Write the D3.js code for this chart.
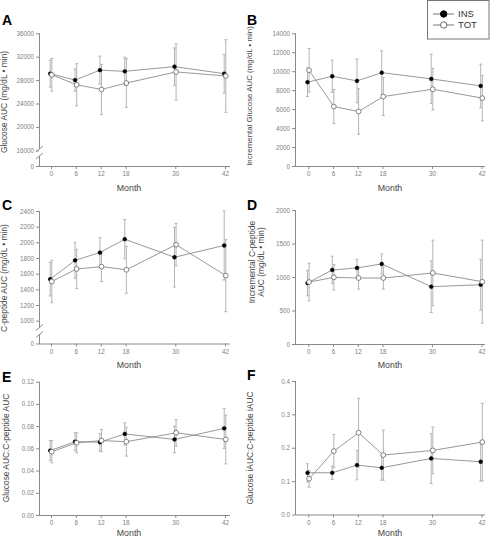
<!DOCTYPE html>
<html><head><meta charset="utf-8">
<script src="https://cdn.jsdelivr.net/npm/d3@7"></script>
<style>body{margin:0;background:#fff}svg{display:block}</style>
</head><body>
<svg id="c" width="490" height="539"></svg>
<script>
// ---------- data ----------
const months = [0, 6, 12, 18, 30, 42];
const seriesNames = ["INS", "TOT"];

// A: Glucose AUC
const aIns = [29100, 28000, 29700, 29500, 30300, 29100];
const aInsErr = [2300, 1900, 2400, 2400, 3200, 3300];
const aTot = [28900, 27200, 26400, 27500, 29400, 28700];
const aTotErr = [2800, 3600, 4300, 4150, 4800, 6200];
const aTicks = [0, 16000, 20000, 24000, 28000, 32000, 36000];

// B: Incremental Glucose AUC
const bIns = [8840, 9470, 8980, 9850, 9190, 8450];
const bInsErr = [1500, 1700, 2300, 2300, 2600, 2300];
const bTot = [10100, 6270, 5750, 7330, 8100, 7160];
const bTotErr = [2300, 1800, 2400, 2000, 2200, 2400];
const bTicks = [0, 2000, 4000, 6000, 8000, 10000, 12000, 14000];

// C: C-peptide AUC
const cIns = [1530, 1770, 1870, 2040, 1810, 1960];
const cInsErr = [215, 230, 190, 250, 380, 440];
const cTot = [1500, 1660, 1690, 1650, 1970, 1575];
const cTotErr = [270, 250, 190, 300, 270, 460];
const cTicks = [0, 1000, 1200, 1400, 1600, 1800, 2000, 2200, 2400];

// D: Incremental C-peptide AUC
const dIns = [910, 1105, 1135, 1195, 855, 885];
const dInsErr = [190, 205, 130, 150, 385, 380];
const dTot = [925, 995, 985, 985, 1060, 930];
const dTotErr = [280, 190, 165, 165, 490, 620];
const dTicks = [0, 500, 1000, 1500, 2000];

// E: Glucose AUC : C-peptide AUC
const eIns = [0.058, 0.066, 0.0655, 0.073, 0.068, 0.078];
const eInsErr = [0.009, 0.008, 0.008, 0.010, 0.012, 0.018];
const eTot = [0.057, 0.065, 0.067, 0.066, 0.074, 0.068];
const eTotErr = [0.010, 0.009, 0.010, 0.013, 0.012, 0.022];
const eTicks = [0, 0.02, 0.04, 0.06, 0.08, 0.10, 0.12];

// F: Glucose iAUC : C-peptide iAUC
const fIns = [0.125, 0.125, 0.148, 0.140, 0.168, 0.158];
const fInsErr = [0.027, 0.020, 0.044, 0.037, 0.075, 0.058];
const fTot = [0.107, 0.190, 0.245, 0.178, 0.192, 0.217];
const fTotErr = [0.025, 0.050, 0.103, 0.075, 0.070, 0.116];
const fTicks = [0, 0.1, 0.2, 0.3, 0.4];

// ---------- layout ----------
const FONT = "'Liberation Sans', Arial, Helvetica, sans-serif";
const svg = d3.select("#c");
const L = {x0: 39, x1: 230, m0: 51, m1: 225, monthX: 129};
const R = {x0: 295, x1: 485, m0: 308.3, m1: 481.5, monthX: 390};

const panels = [
  {letter: "A", col: L, yDom: [0, 16000, 36000], yRng: [166, 150.3, 33.3], ticks: aTicks, fmt: d => d,
   ins: aIns, insErr: aInsErr, tot: aTot, totErr: aTotErr, brk: [149, 156],
   title: ["Glucose AUC (mg/dL \u2022 min)"], tX: [7], tY: 102, tS: 8.4, lY: 25, mY: 190.5},
  {letter: "B", col: R, yDom: [0, 14000], yRng: [166, 33.3], ticks: bTicks, fmt: d => d,
   ins: bIns, insErr: bInsErr, tot: bTot, totErr: bTotErr,
   title: ["Incremental Glucose AUC (mg/dL \u2022 min)"], tX: [252], tY: 96, tS: 7.9, lY: 25, mY: 190.5},
  {letter: "C", col: L, yDom: [0, 1000, 2400], yRng: [343.5, 320.7, 211], ticks: cTicks, fmt: d => d,
   ins: cIns, insErr: cInsErr, tot: cTot, totErr: cTotErr, brk: [327.5, 334.5],
   title: ["C-peptide AUC (mg/dL \u2022 min)"], tX: [7], tY: 278, tS: 8.4, lY: 210, mY: 368},
  {letter: "D", col: R, yDom: [0, 2000], yRng: [344, 210], ticks: dTicks, fmt: d => d,
   ins: dIns, insErr: dInsErr, tot: dTot, totErr: dTotErr,
   title: ["Incremental C-peptide", "AUC (mg/dL \u2022 min)"], tX: [255, 264], tY: 262, tS: 8.4, lY: 210, mY: 368},
  {letter: "E", col: L, yDom: [0, 0.12], yRng: [515, 381.7], ticks: eTicks, fmt: d => d.toFixed(2),
   ins: eIns, insErr: eInsErr, tot: eTot, totErr: eTotErr,
   title: ["Glucose AUC:C-peptide AUC"], tX: [9], tY: 448, tS: 8.4, lY: 382, mY: 536},
  {letter: "F", col: R, yDom: [0, 0.4], yRng: [514.5, 381], ticks: fTicks, fmt: d => d.toFixed(1),
   ins: fIns, insErr: fInsErr, tot: fTot, totErr: fTotErr,
   title: ["Glucose iAUC:C-peptide iAUC"], tX: [253], tY: 448, tS: 8.4, lY: 380, mY: 536}
];

const AX = "#8a8a8a", TICKTXT = "#808080", TITLE = "#444", LINE = "#858585", ERR = "#b4b4b4";

panels.forEach(p => {
  const g = svg.append("g");
  const x = d3.scaleLinear().domain([0, 42]).range([p.col.m0, p.col.m1]);
  const y = d3.scaleLinear().domain(p.yDom).range(p.yRng);
  const y0 = y(0);
  const yTop = y(p.ticks[p.ticks.length - 1]);

  // x axis
  const xa = g.append("g").attr("transform", `translate(0,${y0})`)
    .call(d3.axisBottom(x).tickValues(months).tickSize(3).tickPadding(3));
  xa.select(".domain").remove();
  xa.selectAll("line").attr("stroke", AX);
  xa.selectAll("text").attr("fill", TICKTXT).attr("font-size", 6.3).attr("font-family", FONT);
  g.append("line").attr("x1", p.col.x0).attr("x2", p.col.x1).attr("y1", y0 + 0.5).attr("y2", y0 + 0.5)
    .attr("stroke", AX).attr("stroke-width", 1);

  // y axis
  const ya = g.append("g").attr("transform", `translate(${p.col.x0},0)`)
    .call(d3.axisLeft(y).tickValues(p.ticks).tickSize(3).tickPadding(2).tickFormat(p.fmt));
  ya.select(".domain").remove();
  ya.selectAll("line").attr("stroke", AX);
  ya.selectAll("text").attr("fill", TICKTXT).attr("font-size", 6.3).attr("font-family", FONT);
  const xl = p.col.x0 + 0.5;
  if (p.brk) {
    g.append("line").attr("x1", xl).attr("x2", xl).attr("y1", yTop).attr("y2", p.brk[0]).attr("stroke", AX);
    g.append("line").attr("x1", xl).attr("x2", xl).attr("y1", p.brk[1]).attr("y2", y0 + 0.5).attr("stroke", AX);
    g.append("line").attr("x1", xl - 3.5).attr("y1", p.brk[0] + 3).attr("x2", xl + 3.5).attr("y2", p.brk[0] - 3).attr("stroke", AX);
    g.append("line").attr("x1", xl - 3.5).attr("y1", p.brk[1] + 3).attr("x2", xl + 3.5).attr("y2", p.brk[1] - 3).attr("stroke", AX);
  } else {
    g.append("line").attr("x1", xl).attr("x2", xl).attr("y1", yTop).attr("y2", y0 + 0.5).attr("stroke", AX);
  }

  // panel letter
  g.append("text").attr("x", p.col === L ? 2 : 247).attr("y", p.lY).text(p.letter)
    .attr("font-family", FONT).attr("font-weight", "bold").attr("font-size", 14).attr("fill", "#000");

  // y title
  p.title.forEach((t, i) => {
    g.append("text").attr("transform", `translate(${p.tX[i]},${p.tY}) rotate(-90)`)
      .attr("text-anchor", "middle").text(t)
      .attr("font-family", FONT).attr("font-size", p.tS).attr("fill", TITLE);
  });

  // Month
  g.append("text").attr("x", p.col.monthX).attr("y", p.mY).attr("text-anchor", "middle").text("Month")
    .attr("font-family", FONT).attr("font-size", 8.8).attr("fill", TITLE);

  const series = [
    {vals: p.ins, err: p.insErr, off: -0.8, filled: true},
    {vals: p.tot, err: p.totErr, off: 0.8, filled: false}
  ];
  // error bars
  series.forEach(s => {
    months.forEach((m, i) => {
      const cx = x(m) + s.off;
      const top = y(s.vals[i] + s.err[i]), bot = y(s.vals[i] - s.err[i]);
      g.append("line").attr("x1", cx).attr("x2", cx).attr("y1", top).attr("y2", bot)
        .attr("stroke", ERR).attr("stroke-width", 1);
      [top, bot].forEach(yy => g.append("line").attr("x1", cx - 1.5).attr("x2", cx + 1.5)
        .attr("y1", yy).attr("y2", yy).attr("stroke", ERR).attr("stroke-width", 1));
    });
  });
  // lines
  series.forEach(s => {
    g.append("path").datum(s.vals).attr("d", d3.line().x((d, i) => x(months[i]) + s.off).y(d => y(d)))
      .attr("fill", "none").attr("stroke", LINE).attr("stroke-width", 0.85);
  });
  // markers
  series.forEach(s => {
    g.selectAll(null).data(s.vals).enter().append("circle")
      .attr("cx", (d, i) => x(months[i]) + s.off).attr("cy", d => y(d))
      .attr("r", s.filled ? 1.9 : 2.4)
      .attr("fill", s.filled ? "#000" : "#fff")
      .attr("stroke", s.filled ? "#000" : "#666").attr("stroke-width", s.filled ? 0.5 : 0.8);
  });
});

// legend
const lg = svg.append("g");
lg.append("rect").attr("x", 427.5).attr("y", 0.5).attr("width", 61.5).attr("height", 38.5)
  .attr("fill", "#fff").attr("stroke", "#777").attr("stroke-width", 1);
seriesNames.forEach((n, i) => {
  const yy = 14 + i * 11;
  lg.append("line").attr("x1", 433).attr("x2", 454).attr("y1", yy).attr("y2", yy).attr("stroke", "#777");
  lg.append("circle").attr("cx", 443.7).attr("cy", yy).attr("r", 3.2)
    .attr("fill", i === 0 ? "#000" : "#fff").attr("stroke", i === 0 ? "#000" : "#666");
  lg.append("text").attr("x", 458).attr("y", yy).attr("dy", "0.35em").text(n)
    .attr("font-family", FONT).attr("font-size", 9.5).attr("fill", "#333");
});
</script>
</body></html>
